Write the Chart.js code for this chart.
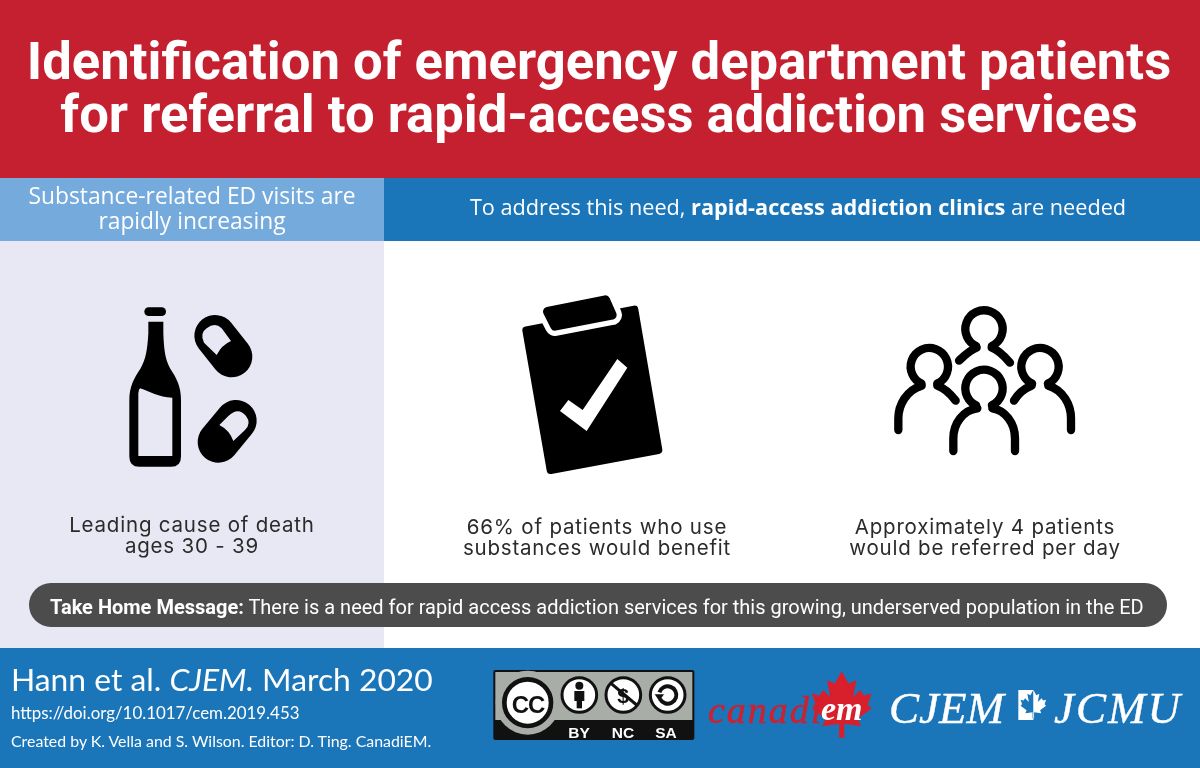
<!DOCTYPE html>
<html>
<head>
<meta charset="utf-8">
<script src="https://cdn.jsdelivr.net/npm/chart.js@4"></script>
<style>
  html, body { margin: 0; padding: 0; background: #fff; }
  #page { position: relative; width: 1200px; height: 768px; overflow: hidden; }
  #poster { position: absolute; left: 0; top: 0; }
  .t { position: absolute; white-space: nowrap; line-height: 1; }
  .c { transform: translateX(-50%); text-align: center; }
  .title { font: 700 52.6px Roboto, sans-serif; color: #fff; left: 599px; }
  .head { font: 400 22.8px "Open Sans", sans-serif; color: #fff; }
  .cap { font: 400 20.5px Inter, sans-serif; color: #2b2b2b; letter-spacing: 0.8px; }
  .take { font: 400 20px Roboto, sans-serif; color: #fff; left: 50px; top: 595px; }
  .foot { font-family: Lato, sans-serif; color: #fff; left: 11px; }
  .badge { font: 700 15.5px "Liberation Sans", sans-serif; color: #fff; top: 724px; }
  .serif { font: italic 400 45px "Liberation Serif", serif; color: #fff; top: 682px; -webkit-text-stroke: 0.4px #fff; }
</style>
</head>
<body>
<div id="page">
  <canvas id="poster" width="1200" height="768"></canvas>
  <div id="labels"></div>
</div>
<script>
const titleLines = ["Identification of emergency department patients", "for referral to rapid-access addiction services"];
const leftHeadLines = ["Substance-related ED visits are", "rapidly increasing"];
const rightHead = ["To address this need, ", "rapid-access addiction clinics", " are needed"];
const deathCaption = ["Leading cause of death", "ages 30 - 39"];
const benefitCaption = ["66% of patients who use", "substances would benefit"];
const referralCaption = ["Approximately 4 patients", "would be referred per day"];
const takeHome = ["Take Home Message:", " There is a need for rapid access addiction services for this growing, underserved population in the ED"];
const citation = ["Hann et al. ", "CJEM.", " March 2020"];
const doiLine = "https://doi.org/10.1017/cem.2019.453";
const creditLine = "Created by K. Vella and S. Wilson. Editor: D. Ting. CanadiEM.";
const licenceTags = ["BY", "NC", "SA"];

const labelBox = document.getElementById("labels");

function addText(cls, style, html) {
  const el = document.createElement("div");
  el.className = "t " + cls;
  el.style.cssText = style;
  el.innerHTML = html;
  labelBox.appendChild(el);
}

addText("title", "top:30px;transform:translateX(-50%)", titleLines[0]);
addText("title", "top:83px;transform:translateX(-50%)", titleLines[1]);
addText("head c", "left:192px;top:180px", leftHeadLines[0]);
addText("head c", "left:192px;top:205px", leftHeadLines[1]);
addText("head c", "left:798px;top:192px;font-size:21.7px", `${rightHead[0]}<b style="font-weight:700">${rightHead[1]}</b>${rightHead[2]}`);
addText("cap c", "left:192px;top:512px", deathCaption[0]);
addText("cap c", "left:192px;top:533px", deathCaption[1]);
addText("cap c", "left:597px;top:514px", benefitCaption[0]);
addText("cap c", "left:597px;top:535px", benefitCaption[1]);
addText("cap c", "left:985px;top:514px", referralCaption[0]);
addText("cap c", "left:985px;top:535px", referralCaption[1]);
addText("take", "", `<b>${takeHome[0]}</b>${takeHome[1]}`);
addText("foot", "top:664px;font-size:31.8px", `${citation[0]}<i>${citation[1]}</i>${citation[2]}`);
addText("foot", "top:705px;font-size:16.9px", doiLine);
addText("foot", "top:733px;font-size:15.9px", creditLine);
licenceTags.forEach((tag, i) => {
  addText("badge c", `left:${[579, 623, 666][i]}px`, tag);
});
addText("t c", "left:528px;top:691px;font:700 24px 'Liberation Sans',sans-serif;color:#111;letter-spacing:-1px", "CC");
addText("t c", "left:623px;top:684px;font:700 21px 'Liberation Sans',sans-serif;color:#111", "$");
addText("t", "left:708px;top:688px;font:italic 400 38px 'Liberation Serif',serif;color:#cf2030;letter-spacing:2px;-webkit-text-stroke:0.5px #cf2030", "canadi");
addText("t", "left:821px;top:690px;font:italic 700 34px 'Liberation Serif',serif;color:#fff", "em");
addText("serif", "left:889px", "CJEM");
addText("serif", "left:1054px;letter-spacing:2px", "JCMU");

// maple leaf outline, drawn around its own centre
const leaf = new Path2D("M0 -100 L20 -65 L40 -75 L30 -20 L55 -45 L65 -30 L85 -35 L75 -5 L85 5 L45 35 L53 55 L5 48 L5 90 L-5 90 L-5 48 L-53 55 L-45 35 L-85 5 L-75 -5 L-85 -35 L-65 -30 L-55 -45 L-30 -20 L-40 -75 L-20 -65 Z");

function inZoom(ctx, ox, oy, fn) {
  ctx.save();
  ctx.translate(ox, oy);
  ctx.scale(1 / 3, 1 / 3);
  fn();
  ctx.restore();
}

function drawPanels(ctx) {
  ctx.fillStyle = "#ffffff";
  ctx.fillRect(0, 0, 1200, 768);
  ctx.fillStyle = "#c42030";
  ctx.fillRect(0, 0, 1200, 178);
  ctx.fillStyle = "#74aadc";
  ctx.fillRect(0, 178, 384, 63);
  ctx.fillStyle = "#1a75b9";
  ctx.fillRect(384, 178, 816, 63);
  ctx.fillStyle = "#e8e8f4";
  ctx.fillRect(0, 241, 384, 407);
  ctx.fillStyle = "#1a75b9";
  ctx.fillRect(0, 648, 1200, 120);
  ctx.fillStyle = "#4c4c4c";
  ctx.beginPath();
  ctx.roundRect(29, 583, 1138, 44, 22);
  ctx.fill();
}

function drawBottle(ctx) {
  inZoom(ctx, 110, 290, () => {
    ctx.fillStyle = "#000";
    ctx.beginPath();
    ctx.roundRect(103, 52, 65, 26, 13);
    ctx.fill();
    const body = new Path2D("M115 95 L160 95 L160 130 C162 180 165 205 180 235 C200 265 213 290 213 330 L213 500 Q213 530 183 530 L88 530 Q58 530 58 500 L58 330 C58 290 72 265 92 235 C108 205 112 180 115 130 Z");
    ctx.fill(body);
    ctx.fillStyle = "#e8e8f4";
    ctx.fill(new Path2D("M90 295 C120 305 145 322 187 323 L187 498 L85 498 L85 310 Q85 300 90 295 Z"));

    ctx.strokeStyle = "#000";
    ctx.lineCap = "round";
    ctx.lineWidth = 124;
    [[315, 137, 365, 200], [378, 392, 325, 456]].forEach((p) => {
      ctx.beginPath();
      ctx.moveTo(p[0], p[1]);
      ctx.lineTo(p[2], p[3]);
      ctx.stroke();
    });
    ctx.fill(new Path2D("M320 195 L282 158 Q268 130 290 115 Q315 95 335 115 L363 153 Q335 165 320 195 Z"));
    ctx.fill(new Path2D("M328 405 L355 378 Q385 350 408 378 Q425 400 405 420 L370 453 Q358 420 328 405 Z"));
  });
}

function drawClipboard(ctx) {
  inZoom(ctx, 510, 285, () => {
    ctx.fillStyle = "#000";
    ctx.lineJoin = "round";
    ctx.strokeStyle = "#000";
    ctx.lineWidth = 24;
    const body = new Path2D("M49 136 L373 74 L445 495 L122 555 Z");
    ctx.fill(body);
    ctx.stroke(body);
    const clip = new Path2D("M113 80 L286 45 L306 90 L135 123 Z");
    ctx.strokeStyle = "#fff";
    ctx.lineWidth = 60;
    ctx.stroke(clip);
    ctx.strokeStyle = "#000";
    ctx.lineWidth = 28;
    ctx.fill(clip);
    ctx.stroke(clip);
    ctx.fillStyle = "#fff";
    ctx.fill(new Path2D("M150 378 L175 345 L218 375 L322 222 L352 248 L230 438 Z"));
  });
}

function drawPerson(ctx, cx, cy, shoulderPaths) {
  ctx.beginPath();
  ctx.arc(cx, cy, 56, 65 * Math.PI / 180, 115 * Math.PI / 180, true);
  ctx.stroke();
  shoulderPaths.forEach((d) => ctx.stroke(new Path2D(d)));
}

function drawPeople(ctx) {
  inZoom(ctx, 885, 295, () => {
    ctx.strokeStyle = "#000";
    ctx.lineWidth = 25;
    ctx.lineCap = "round";
    drawPerson(ctx, 297, 102, ["M275 158 C255 165 240 180 222 197", "M320 158 C340 165 355 180 375 203"]);
    drawPerson(ctx, 133, 215, ["M110 272 C65 285 40 330 40 370 L40 405", "M157 272 C180 280 195 295 212 317"]);
    drawPerson(ctx, 465, 215, ["M490 272 C535 285 558 330 558 370 L558 405", "M440 272 C420 280 400 295 387 317"]);
    drawPerson(ctx, 297, 280, ["M277 340 C235 345 205 385 205 430 L205 468", "M322 340 C360 345 390 385 390 430 L390 468"]);
  });
}

function drawLicence(ctx) {
  inZoom(ctx, 480, 655, () => {
    ctx.fillStyle = "#111";
    ctx.beginPath();
    ctx.roundRect(40, 45, 603, 210, 6);
    ctx.fill();
    ctx.fillStyle = "#a9ada8";
    ctx.fillRect(46, 51, 591, 144);
    ctx.beginPath();
    ctx.arc(143, 143, 96, 0, Math.PI * 2);
    ctx.fillStyle = "#a9ada8";
    ctx.fill();
    ctx.beginPath();
    ctx.arc(143, 143, 70, 0, Math.PI * 2);
    ctx.fillStyle = "#fff";
    ctx.fill();
    ctx.lineWidth = 14;
    ctx.strokeStyle = "#111";
    ctx.stroke();
    [298, 430, 563].forEach((cx) => {
      ctx.beginPath();
      ctx.arc(cx, 120, 52, 0, Math.PI * 2);
      ctx.fillStyle = "#fff";
      ctx.fill();
      ctx.lineWidth = 9;
      ctx.stroke();
    });
    // person
    ctx.fillStyle = "#111";
    ctx.beginPath();
    ctx.arc(298, 92, 12, 0, Math.PI * 2);
    ctx.fill();
    ctx.fillRect(283, 108, 30, 30);
    ctx.fillRect(290, 130, 16, 30);
    // crossing bar of NC
    ctx.lineWidth = 9;
    ctx.beginPath();
    ctx.moveTo(393, 85);
    ctx.lineTo(470, 150);
    ctx.stroke();
    // share-alike arrow
    ctx.lineWidth = 12;
    ctx.beginPath();
    ctx.arc(563, 120, 26, 1.1 * Math.PI, 0.85 * Math.PI);
    ctx.stroke();
    ctx.beginPath();
    ctx.moveTo(524, 118);
    ctx.lineTo(552, 118);
    ctx.lineTo(538, 138);
    ctx.closePath();
    ctx.fill();
  });
}

function drawLogos(ctx) {
  inZoom(ctx, 700, 660, () => {
    ctx.save();
    ctx.translate(425, 140);
    ctx.fillStyle = "#d7202c";
    ctx.strokeStyle = "#d7202c";
    ctx.lineWidth = 6;
    ctx.fill(leaf);
    ctx.stroke(leaf);
    ctx.restore();

    // small split leaf between CJEM and JCMU
    ctx.save();
    ctx.fillStyle = "#fff";
    ctx.fillRect(955, 90, 45, 90);
    ctx.translate(1000, 135);
    ctx.scale(0.45, 0.45);
    ctx.beginPath();
    ctx.rect(-100, -100, 100, 200);
    ctx.clip();
    ctx.fillStyle = "#1a75b9";
    ctx.fill(leaf);
    ctx.restore();
    ctx.save();
    ctx.translate(1000, 135);
    ctx.scale(0.45, 0.45);
    ctx.beginPath();
    ctx.rect(0, -100, 100, 200);
    ctx.clip();
    ctx.fillStyle = "#fff";
    ctx.fill(leaf);
    ctx.restore();
  });
}

const posterPlugin = {
  id: "poster",
  beforeDraw(chart) {
    const ctx = chart.ctx;
    ctx.save();
    drawPanels(ctx);
    drawBottle(ctx);
    drawClipboard(ctx);
    drawPeople(ctx);
    drawLicence(ctx);
    drawLogos(ctx);
    ctx.restore();
  },
};

new Chart(document.getElementById("poster"), {
  type: "scatter",
  data: { datasets: [] },
  plugins: [posterPlugin],
  options: {
    responsive: false,
    animation: false,
    plugins: { legend: { display: false }, tooltip: { enabled: false } },
    scales: {
      x: { display: false, min: 0, max: 1200 },
      y: { display: false, min: 0, max: 768, reverse: true },
    },
  },
});
</script>
</body>
</html>
